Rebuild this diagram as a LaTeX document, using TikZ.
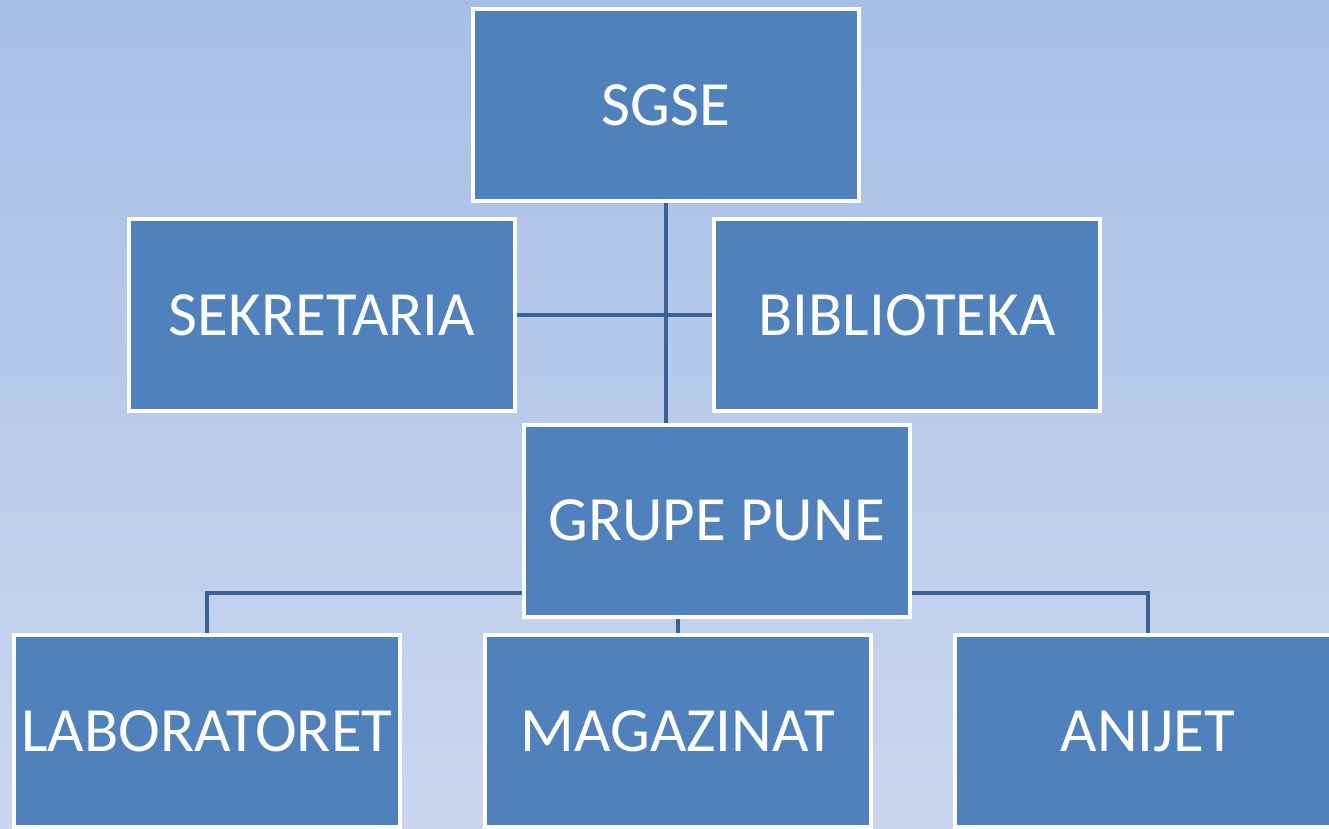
\documentclass[tikz,border=0pt]{standalone}
\usepackage{fontspec}
\newfontfamily\boxfont{Carlito}
\pgfdeclarelayer{background}
\pgfsetlayers{background,main}
\definecolor{boxblue}{RGB}{79,129,189}
\definecolor{linkblue}{RGB}{58,98,148}
\definecolor{bgtop}{RGB}{167,190,231}
\definecolor{bgbot}{RGB}{203,215,238}
\begin{document}
\begin{tikzpicture}[x=1pt,y=-1pt,
  orgbox/.style={draw=white, line width=4pt, fill=boxblue, text=white,
    minimum width=386pt, minimum height=192pt, inner sep=0pt,
    font=\boxfont\fontsize{63}{63}\selectfont},
  link/.style={draw=linkblue, line width=4pt}]
\useasboundingbox (0,0) rectangle (1329,828);
\clip (0,0) rectangle (1329,828);
\begin{pgfonlayer}{background}
\shade[top color=bgtop, bottom color=bgbot] (0,0) rectangle (1329,828);
\end{pgfonlayer}
\node[orgbox] (sgse) at (666,105) {SGSE};
\node[orgbox] (sek) at (322,315) {SEKRETARIA};
\node[orgbox] (bib) at (907,315) {BIBLIOTEKA};
\node[orgbox] (grupe) at (716.5,520.5) {GRUPE PUNE};
\node[orgbox] (lab) at (207,731) {LABORATORET};
\node[orgbox] (mag) at (677.5,731) {MAGAZINAT};
\node[orgbox] (anij) at (1148,731) {ANIJET};
\coordinate (hub) at (678,593);
\begin{pgfonlayer}{background}
\draw[link] (sgse.south) -- (sgse.south |- grupe.north);
\draw[link] (sek.east) -- (bib.west);
\draw[link] (lab.north) |- (hub) -| (anij.north);
\draw[link] (mag.north) -- (mag.north |- grupe.south);
\end{pgfonlayer}
\end{tikzpicture}
\end{document}
